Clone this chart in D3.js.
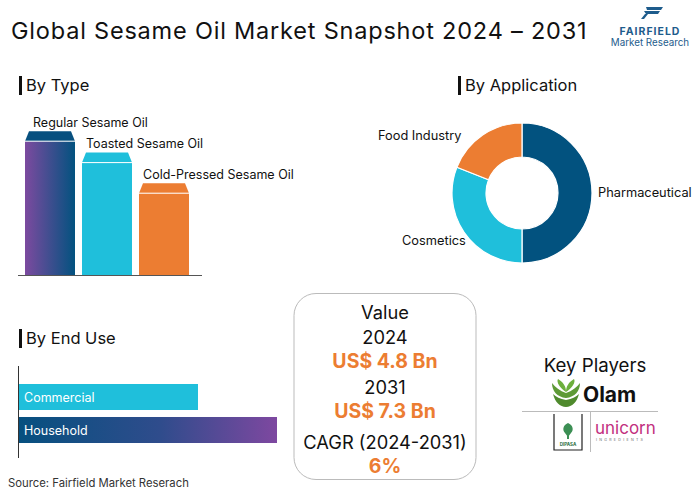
<!DOCTYPE html>
<html><head><meta charset="utf-8">
<script src="https://cdn.jsdelivr.net/npm/d3@7"></script>
<style>
body{margin:0;background:#fff;}
svg text{font-family:Inter, "Open Sans", sans-serif;}
</style></head>
<body><svg id="c" width="700" height="491"></svg>
<script>
// ---- data ----
const typeCategories = ["Regular Sesame Oil","Toasted Sesame Oil","Cold-Pressed Sesame Oil"];
const typeValues = [47, 40, 30];
const appCategories = ["Pharmaceutical","Cosmetics","Food Industry"];
const appValues = [50, 31, 19];
const endUseCategories = ["Commercial","Household"];
const endUseValues = [41, 59];
const valueLines = ["Value","2024","US$ 4.8 Bn","2031","US$ 7.3 Bn","CAGR (2024-2031)","6%"];
const keyPlayers = ["Olam","DIPASA","unicorn"];

const svg = d3.select("#c");
const defs = svg.append("defs");
const g1 = defs.append("linearGradient").attr("id","gPurpleBlue").attr("x1","0").attr("x2","1");
g1.append("stop").attr("offset","0").attr("stop-color","#7C4A9F");
g1.append("stop").attr("offset","1").attr("stop-color","#02527F");
const g2 = defs.append("linearGradient").attr("id","gBluePurple").attr("x1","0").attr("x2","1");
g2.append("stop").attr("offset","0").attr("stop-color","#06507F");
g2.append("stop").attr("offset","0.55").attr("stop-color","#2F4C8C");
g2.append("stop").attr("offset","1").attr("stop-color","#7E48A0");

// title
svg.append("text").attr("x",11).attr("y",39).attr("font-size",23.5).attr("letter-spacing",0.8).attr("fill","#111")
  .text("Global Sesame Oil Market Snapshot 2024 – 2031");

// logo
const logo = svg.append("g");
logo.append("path").attr("d","M646,7 L663,7 L661,10 L647,10 Z M644,11 L660,11 L658,14 L646,14 Z M645,14 L648,14 L644,19 L641,19 Z").attr("fill","#1E5C8C");
logo.append("text").attr("x",650).attr("y",35).attr("text-anchor","middle").attr("font-size",10.5)
  .attr("font-weight",700).attr("fill","#1E5C8C").attr("letter-spacing",1).text("FAIRFIELD");
logo.append("text").attr("x",650).attr("y",46).attr("text-anchor","middle").attr("font-size",9.8)
  .attr("fill","#1E5C8C").text("Market Research");

function heading(x,y,label){
  svg.append("rect").attr("x",x).attr("y",y-9).attr("width",3).attr("height",19).attr("fill","#111");
  svg.append("text").attr("x",x+7).attr("y",y+6).attr("font-size",16.5).attr("fill","#111").text(label);
}
heading(19,85,"By Type");
heading(458,85,"By Application");
heading(19,338,"By End Use");

// ---- By Type bars ----
const xType = d3.scaleBand().domain(typeCategories).range([25,189]).paddingInner(0.123).paddingOuter(0);
const yType = d3.scaleLinear().domain([0,50]).range([275,122]);
const typeFill = ["url(#gPurpleBlue)","#1FBFDB","#EC7D32"];
const capFill = ["#07507F","#1FBFDB","#EC7D32"];
const labelDx = [8,4,4];
const capH = 10;
const tg = svg.append("g");
typeCategories.forEach((c,i)=>{
  const x = xType(c), w = xType.bandwidth(), top = yType(typeValues[i]);
  tg.append("rect").attr("x",x).attr("y",top+capH).attr("width",w).attr("height",yType(0)-top-capH).attr("fill",typeFill[i]);
  tg.append("path").attr("d",`M${x},${top+capH} L${x+4},${top} L${x+w-4},${top} L${x+w},${top+capH} Z`).attr("fill",capFill[i]);
  tg.append("line").attr("x1",x).attr("x2",x+w).attr("y1",top+capH).attr("y2",top+capH).attr("stroke","#fff").attr("stroke-width",1);
  tg.append("text").attr("x",x+labelDx[i]).attr("y",top-4.5).attr("font-size",12.5).attr("fill","#111").text(c);
});
tg.append("line").attr("x1",18).attr("x2",202).attr("y1",275.5).attr("y2",275.5).attr("stroke","#555").attr("stroke-width",1);

// ---- By Application donut ----
const pie = d3.pie().sort(null).value(d=>d);
const arc = d3.arc().innerRadius(36).outerRadius(70);
const dg = svg.append("g").attr("transform","translate(522,193)");
const appColors = ["#02527F","#1FBFDB","#EC7D32"];
dg.selectAll("path").data(pie(appValues)).join("path").attr("d",arc)
  .attr("fill",(d,i)=>appColors[i]).attr("stroke","#fff").attr("stroke-width",1.2);
const appLabelPos = [[598,197,"start"],[402,245,"start"],[378,140,"start"]];
appCategories.forEach((c,i)=>{
  svg.append("text").attr("x",appLabelPos[i][0]).attr("y",appLabelPos[i][1]).attr("font-size",12.8)
    .attr("fill","#111").text(c);
});

// ---- By End Use ----
const xEnd = d3.scaleLinear().domain([0,59]).range([18,277]);
const yEnd = d3.scaleBand().domain(endUseCategories).range([380.5,446.5]).paddingInner(0.212).paddingOuter(0.106);
const endFill = ["#1FBFDB","url(#gBluePurple)"];
const eg = svg.append("g");
endUseCategories.forEach((c,i)=>{
  eg.append("rect").attr("x",xEnd(0)).attr("y",yEnd(c)).attr("width",xEnd(endUseValues[i])-xEnd(0))
    .attr("height",yEnd.bandwidth()).attr("fill",endFill[i]);
  eg.append("text").attr("x",xEnd(0)+6).attr("y",yEnd(c)+yEnd.bandwidth()/2+4.5).attr("font-size",12.5)
    .attr("fill","#fff").text(c);
});
eg.append("line").attr("x1",18.5).attr("x2",18.5).attr("y1",366).attr("y2",458).attr("stroke","#333");

// ---- Value box ----
svg.append("rect").attr("x",294).attr("y",293.5).attr("width",182).attr("height",186).attr("rx",22)
  .attr("fill","#fff").attr("stroke","#bbb").attr("stroke-width",1);
const vy = [312,337,361,387,411,442,466];
valueLines.forEach((t,i)=>{
  const orange = (i===2||i===4||i===6);
  svg.append("text").attr("x",385).attr("y",vy[i]+6.5).attr("text-anchor","middle")
    .attr("font-size",orange?19.5:18.3).attr("font-weight",orange?700:400)
    .attr("fill",orange?"#EC7D32":"#111").text(t);
});

// ---- Key Players ----
svg.append("text").attr("x",595).attr("y",371.5).attr("text-anchor","middle").attr("font-size",18.7).attr("fill","#111").text("Key Players");
// Olam icon
const ol = svg.append("g");
ol.append("path").attr("d","M566,392 C560,388 556,382 558,379 C563,382 566,386 566,392 Z").attr("fill","#6DAF3C");
ol.append("path").attr("d","M566,392 C572,388 576,382 574,379 C569,382 566,386 566,392 Z").attr("fill","#6DAF3C");
ol.append("path").attr("d","M566,393 C560,391 555,387 552,383 C552,391 557,397 566,398 C575,397 580,391 580,383 C577,387 572,391 566,393 Z").attr("fill","#5E9A36");
ol.append("path").attr("d","M566,400 C560,399 556,397 553,394 C555,402 560,407 566,407 C572,407 577,402 579,394 C576,397 572,399 566,400 Z").attr("fill","#4F8A2D");
svg.append("text").attr("x",583).attr("y",402).attr("font-size",21).attr("font-weight",700).attr("fill","#111").text(keyPlayers[0]);
svg.append("line").attr("x1",522).attr("x2",658).attr("y1",411.5).attr("y2",411.5).attr("stroke","#bbb");
svg.append("line").attr("x1",590.5).attr("x2",590.5).attr("y1",412).attr("y2",452).attr("stroke","#bbb");
// DIPASA
const dp = svg.append("g");
dp.append("path").attr("d","M554,414 L554,450 L582,450 L582,414").attr("fill","none").attr("stroke","#222").attr("stroke-width",1.2);
dp.append("path").attr("d","M568,423 C563,425 562,430 565,433 L568,437 L571,433 C574,430 573,425 568,423 Z").attr("fill","#3C8F54");
dp.append("rect").attr("x",567).attr("y",433).attr("width",2).attr("height",6).attr("fill","#3C8F54");
dp.append("text").attr("x",568).attr("y",446).attr("text-anchor","middle").attr("font-size",4.5).attr("font-weight",700).attr("fill","#2B6E3F").text(keyPlayers[1]);
// unicorn
svg.append("text").attr("x",595).attr("y",434).attr("font-size",17).attr("fill","#C2307E").text(keyPlayers[2]);
svg.append("text").attr("x",596).attr("y",441).attr("font-size",3.6).attr("letter-spacing",2.3).attr("fill","#666").text("INGREDIENTS");

// source
svg.append("text").attr("x",8).attr("y",487).attr("font-size",11.3).attr("fill","#333").text("Source: Fairfield Market Reserach");
</script></body></html>
